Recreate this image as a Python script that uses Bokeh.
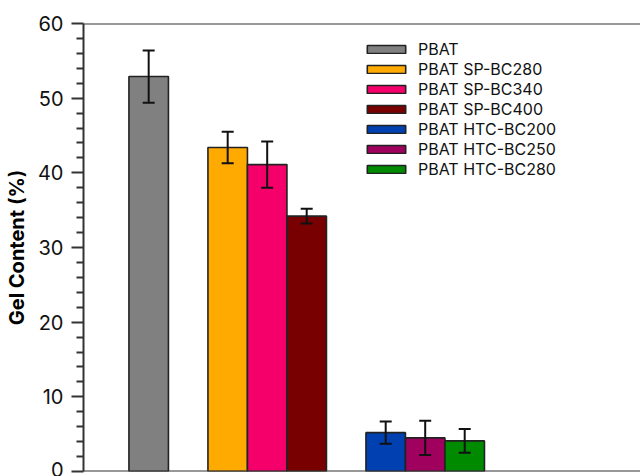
from bokeh.plotting import figure
from bokeh.models import Range1d, Whisker, ColumnDataSource, TeeHead, Span, Legend, LegendItem, FixedTicker
from bokeh.embed import file_html
from bokeh.resources import INLINE

# ---- data ----
groups = [
    ["PBAT"],
    ["PBAT SP-BC280", "PBAT SP-BC340", "PBAT SP-BC400"],
    ["PBAT HTC-BC200", "PBAT HTC-BC250", "PBAT HTC-BC280"],
]
gel_content = [52.9, 43.4, 41.1, 34.2, 5.2, 4.5, 4.1]
gel_error = [3.5, 2.1, 3.1, 1.0, 1.5, 2.3, 1.6]
colors = ["#808080", "#FFAA00", "#F5006A", "#780000", "#0040B0", "#A0005E", "#008A00"]
y_ticks = [0, 10, 20, 30, 40, 50, 60]

# positions derived from the group structure (one empty slot between groups)
labels, xs = [], []
pos = 0
for g in groups:
    for name in g:
        labels.append(name)
        xs.append(pos)
        pos += 1
    pos += 1

upper = [v + e for v, e in zip(gel_content, gel_error)]
lower = [v - e for v, e in zip(gel_content, gel_error)]

src = ColumnDataSource(dict(x=xs, top=gel_content, upper=upper, lower=lower,
                            color=colors, label=labels))

p = figure(width=640, height=476, output_backend="svg", toolbar_location=None,
           x_range=Range1d(-1.65, 12.45), y_range=Range1d(0, 60),
           min_border_left=83, min_border_right=0, min_border_top=23, min_border_bottom=5)
p.outline_line_color = None
p.grid.visible = False
p.xaxis.visible = False
p.background_fill_color = "white"
p.border_fill_color = "white"

r = p.vbar(x="x", top="top", width=1.0, bottom=0, fill_color="color",
           line_color="#222222", line_width=1.6, source=src)

w = Whisker(base="x", upper="upper", lower="lower", source=src, level="overlay",
            line_color="#111111", line_width=2,
            upper_head=TeeHead(size=12, line_width=2, line_color="#111111"),
            lower_head=TeeHead(size=12, line_width=2, line_color="#111111"))
p.add_layout(w)

for yv in (0, 60):
    p.add_layout(Span(location=yv, dimension="width", line_color="#333333", line_width=2))

ax = p.yaxis[0]
ax.ticker = FixedTicker(ticks=y_ticks, minor_ticks=[v for v in range(0, 61, 2) if v % 10])
ax.axis_line_width = 2
ax.axis_line_color = "#333333"
ax.major_tick_line_width = 2
ax.major_tick_line_color = "#333333"
ax.minor_tick_line_width = 2
ax.minor_tick_line_color = "#333333"
ax.major_tick_out = 12
ax.major_tick_in = 0
ax.minor_tick_out = 7
ax.minor_tick_in = 0
ax.major_label_standoff = 8
ax.major_label_text_font = "Inter"
ax.major_label_text_font_size = "20px"
ax.major_label_text_color = "#111111"
ax.axis_label = "Gel Content (%)"
ax.axis_label_text_font = "Inter"
ax.axis_label_text_font_style = "bold"
ax.axis_label_text_font_size = "20px"
ax.axis_label_text_color = "#000000"
ax.axis_label_standoff = 6

items = [LegendItem(label=lab, renderers=[r], index=i) for i, lab in enumerate(labels)]
leg = Legend(items=items, location=(279, 292), orientation="vertical",
             glyph_width=48, glyph_height=10, label_height=19, spacing=0,
             label_standoff=8, padding=0, margin=0,
             label_text_font="Inter", label_text_font_size="16px",
             label_text_color="#111111",
             border_line_color=None, background_fill_alpha=0)
p.add_layout(leg, "center")

open("out.html", "w").write(file_html(p, INLINE))
